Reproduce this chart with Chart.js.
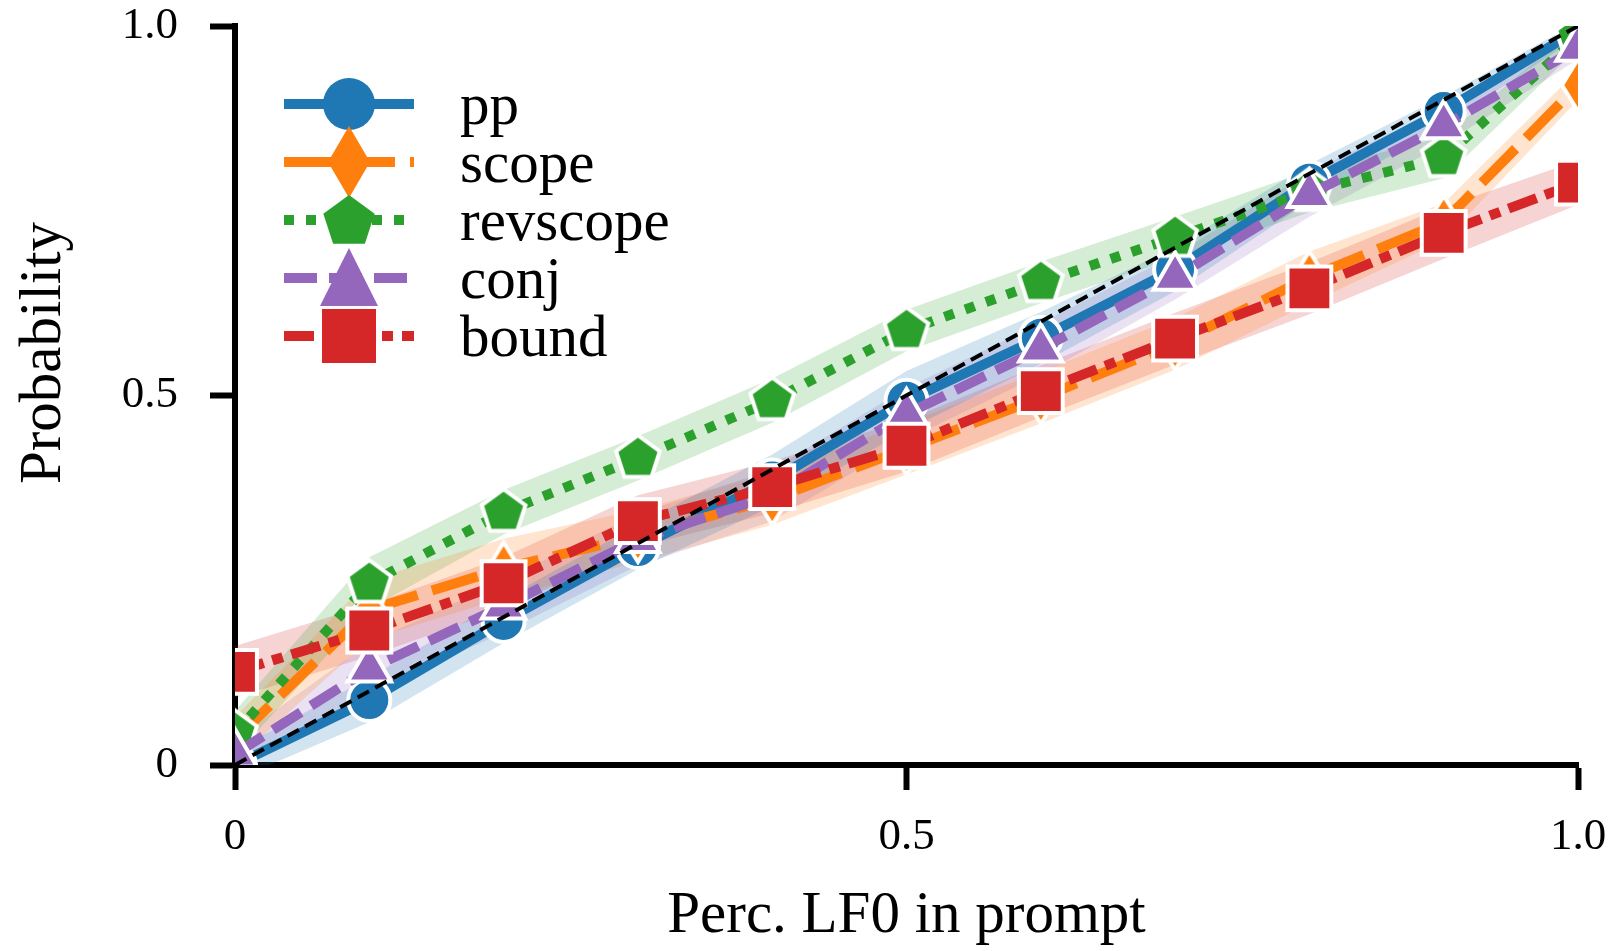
<!DOCTYPE html>
<html>
<head>
<meta charset="utf-8">
<script src="https://cdn.jsdelivr.net/npm/chart.js@4.4.0/dist/chart.umd.min.js"></script>
<style>
  html, body { margin: 0; padding: 0; background: #fff; }
  #wrap { width: 1614px; height: 951px; }
</style>
</head>
<body>
<div id="wrap"><canvas id="canvas"></canvas></div>
<script>
// values
const xValues = [0, 0.1, 0.2, 0.3, 0.4, 0.5, 0.6, 0.7, 0.8, 0.9, 1.0];

const ppValues       = [0.0, 0.088, 0.195, 0.295, 0.385, 0.493, 0.578, 0.671, 0.788, 0.885, 0.995];
const scopeValues    = [0.035, 0.21, 0.266, 0.31, 0.36, 0.428, 0.497, 0.57, 0.66, 0.735, 0.92];
const revscopeValues = [0.043, 0.246, 0.342, 0.415, 0.493, 0.588, 0.653, 0.714, 0.776, 0.822, 0.985];
const conjValues     = [0.015, 0.13, 0.215, 0.305, 0.365, 0.475, 0.563, 0.66, 0.772, 0.865, 0.97];
const boundValues    = [0.126, 0.182, 0.246, 0.33, 0.376, 0.432, 0.506, 0.577, 0.645, 0.72, 0.788];

// half widths of the shaded bands
const ppCi       = [0.02, 0.03, 0.03, 0.03, 0.035, 0.04, 0.035, 0.03, 0.025, 0.02, 0.01];
const scopeCi    = [0.03, 0.04, 0.04, 0.035, 0.035, 0.035, 0.035, 0.035, 0.035, 0.025, 0.02];
const revscopeCi = [0.03, 0.035, 0.03, 0.03, 0.03, 0.028, 0.028, 0.028, 0.028, 0.028, 0.015];
const conjCi     = [0.02, 0.035, 0.035, 0.035, 0.035, 0.035, 0.035, 0.03, 0.03, 0.025, 0.015];
const boundCi    = [0.035, 0.035, 0.035, 0.035, 0.035, 0.035, 0.035, 0.035, 0.035, 0.035, 0.03];

const diagX = [0, 1];
const diagY = [0, 1];

const xTickValues = [0, 0.5, 1];
const xTickLabels = ['0', '0.5', '1.0'];
const yTickValues = [0, 0.5, 1];
const yTickLabels = ['0', '0.5', '1.0'];

const FONT = '"Liberation Serif", "DejaVu Serif", "Times New Roman", serif';

function pentagonPath(ctx, cx, cy, r) {
  ctx.beginPath();
  for (let k = 0; k < 5; k++) {
    const a = -Math.PI / 2 + k * 2 * Math.PI / 5;
    const px = cx + r * Math.cos(a);
    const py = cy + r * Math.sin(a);
    if (k === 0) ctx.moveTo(px, py); else ctx.lineTo(px, py);
  }
  ctx.closePath();
}

function diamondPath(ctx, cx, cy, hw, hh) {
  ctx.beginPath();
  ctx.moveTo(cx, cy - hh);
  ctx.lineTo(cx + hw, cy);
  ctx.lineTo(cx, cy + hh);
  ctx.lineTo(cx - hw, cy);
  ctx.closePath();
}

function markerCanvas(w, h, pathFn, color) {
  const c = document.createElement('canvas');
  c.width = w;
  c.height = h;
  const g = c.getContext('2d');
  pathFn(g, w / 2, h / 2);
  g.fillStyle = color;
  g.fill();
  g.lineWidth = 4;
  g.strokeStyle = '#fff';
  g.lineJoin = 'miter';
  g.stroke();
  return c;
}

const pentagonMarker = markerCanvas(54, 54, (g, cx, cy) => pentagonPath(g, cx, cy, 23), '#2ca02c');
const diamondMarker = markerCanvas(38, 58, (g, cx, cy) => diamondPath(g, cx, cy, 16, 26), '#ff7f0e');

const series = [
  { label: 'pp', values: ppValues, ci: ppCi, color: '#1f77b4', band: 'rgba(31,119,180,0.2)', dash: [], style: 'circle', radius: 21, marker: 'circle' },
  { label: 'scope', values: scopeValues, ci: scopeCi, color: '#ff7f0e', band: 'rgba(255,127,14,0.2)', dash: [48, 15], style: diamondMarker, radius: 20, marker: 'diamond' },
  { label: 'revscope', values: revscopeValues, ci: revscopeCi, color: '#2ca02c', band: 'rgba(44,160,44,0.2)', dash: [10, 12], style: pentagonMarker, radius: 20, marker: 'pentagon' },
  { label: 'conj', values: conjValues, ci: conjCi, color: '#9467bd', band: 'rgba(148,103,189,0.2)', dash: [33, 12], style: 'triangle', radius: 25, marker: 'triangle' },
  { label: 'bound', values: boundValues, ci: boundCi, color: '#d62728', band: 'rgba(214,39,40,0.2)', dash: [30, 9, 11, 9], style: 'rect', radius: 31, marker: 'square' },
];

const toPoints = (ys) => xValues.map((x, i) => ({ x: x, y: ys[i] }));

const datasets = [];

// diagonal reference line, drawn on top
datasets.push({
  data: diagX.map((x, i) => ({ x: x, y: diagY[i] })),
  borderColor: '#000', borderWidth: 4, borderDash: [13, 7],
  pointRadius: 0, fill: false, tension: 0, order: 0, clip: 0,
});

// main lines: later series on top
series.forEach((s, i) => {
  datasets.push({
    label: s.label,
    data: toPoints(s.values),
    borderColor: s.color,
    backgroundColor: s.color,
    borderWidth: 10,
    borderDash: s.dash,
    borderCapStyle: 'butt',
    pointStyle: s.style,
    pointRadius: s.radius,
    pointBackgroundColor: s.color,
    pointBorderColor: '#fff',
    pointBorderWidth: 4,
    fill: false,
    tension: 0,
    clip: 0,
    order: series.length - i,
  });
});

// shaded bands below everything
series.forEach((s) => {
  const lowerIndex = datasets.length;
  datasets.push({
    data: toPoints(s.values.map((v, k) => v - s.ci[k])),
    borderColor: 'rgba(0,0,0,0)', borderWidth: 1,
    pointRadius: 0, fill: false, tension: 0, clip: 0, order: 20,
  });
  datasets.push({
    data: toPoints(s.values.map((v, k) => v + s.ci[k])),
    borderColor: 'rgba(0,0,0,0)', borderWidth: 1,
    backgroundColor: s.band,
    pointRadius: 0, fill: lowerIndex, tension: 0, clip: 0, order: 20,
  });
});

function legendMarker(ctx, kind, cx, cy) {
  if (kind === 'circle') {
    ctx.beginPath();
    ctx.arc(cx, cy, 26, 0, Math.PI * 2);
  } else if (kind === 'diamond') {
    diamondPath(ctx, cx, cy, 21, 36);
  } else if (kind === 'pentagon') {
    pentagonPath(ctx, cx, cy + 2, 27);
  } else if (kind === 'triangle') {
    ctx.beginPath();
    ctx.moveTo(cx, cy - 30);
    ctx.lineTo(cx + 29, cy + 28);
    ctx.lineTo(cx - 29, cy + 28);
    ctx.closePath();
  } else {
    ctx.beginPath();
    ctx.rect(cx - 27, cy - 27, 54, 54);
  }
  ctx.fill();
}

const decorations = {
  id: 'decorations',
  afterDraw(chart) {
    const ctx = chart.ctx;
    ctx.save();
    // legend
    series.forEach((s, i) => {
      const y = 104 + i * 58;
      ctx.strokeStyle = s.color;
      ctx.lineWidth = 10;
      ctx.lineCap = 'butt';
      ctx.setLineDash(s.dash);
      ctx.beginPath();
      ctx.moveTo(284, y);
      ctx.lineTo(414, y);
      ctx.stroke();
      ctx.setLineDash([]);
      ctx.fillStyle = s.color;
      legendMarker(ctx, s.marker, 349, y);
      ctx.fillStyle = '#000';
      ctx.font = '59px ' + FONT;
      ctx.textAlign = 'left';
      ctx.textBaseline = 'alphabetic';
      ctx.fillText(s.label, 460, y + 20);
    });
    // axis titles
    const area = chart.chartArea;
    ctx.fillStyle = '#000';
    ctx.font = '59px ' + FONT;
    ctx.textAlign = 'center';
    ctx.textBaseline = 'alphabetic';
    ctx.fillText('Perc. LF0 in prompt', (area.left + area.right) / 2, 932);
    ctx.translate(60, 353);
    ctx.rotate(-Math.PI / 2);
    ctx.fillText('Probability', 0, 0);
    ctx.restore();
  },
};

const canvas = document.getElementById('canvas');

new Chart(canvas, {
  type: 'line',
  data: { datasets: datasets },
  options: {
    responsive: true,
    maintainAspectRatio: false,
    animation: false,
    events: [],
    layout: { autoPadding: false, padding: { top: 26, right: 36, left: 0, bottom: 0 } },
    plugins: { legend: { display: false }, tooltip: { enabled: false } },
    scales: {
      x: {
        type: 'linear', min: 0, max: 1, z: 1,
        afterFit(scale) {
          scale.height = 186;
          scale.paddingLeft = 0;
          scale.paddingRight = 0;
        },
        afterBuildTicks(scale) { scale.ticks = xTickValues.map((v) => ({ value: v })); },
        ticks: {
          callback: (v, i) => xTickLabels[i],
          font: { family: FONT, size: 45 }, color: '#000', padding: 20, maxRotation: 0, autoSkip: false,
        },
        grid: { drawOnChartArea: false, drawTicks: true, tickLength: 25, tickWidth: 6, tickColor: '#000' },
        border: { display: true, color: '#000', width: 6 },
      },
      y: {
        type: 'linear', min: 0, max: 1, z: 1,
        afterFit(scale) {
          scale.width = 235;
          scale.paddingTop = 0;
          scale.paddingBottom = 0;
        },
        afterBuildTicks(scale) { scale.ticks = yTickValues.map((v) => ({ value: v })); },
        ticks: {
          callback: (v, i) => yTickLabels[i],
          font: { family: FONT, size: 45 }, color: '#000', padding: 32, autoSkip: false,
        },
        grid: { drawOnChartArea: false, drawTicks: true, tickLength: 25, tickWidth: 6, tickColor: '#000' },
        border: { display: true, color: '#000', width: 6 },
      },
    },
  },
  plugins: [decorations],
});
</script>
</body>
</html>
